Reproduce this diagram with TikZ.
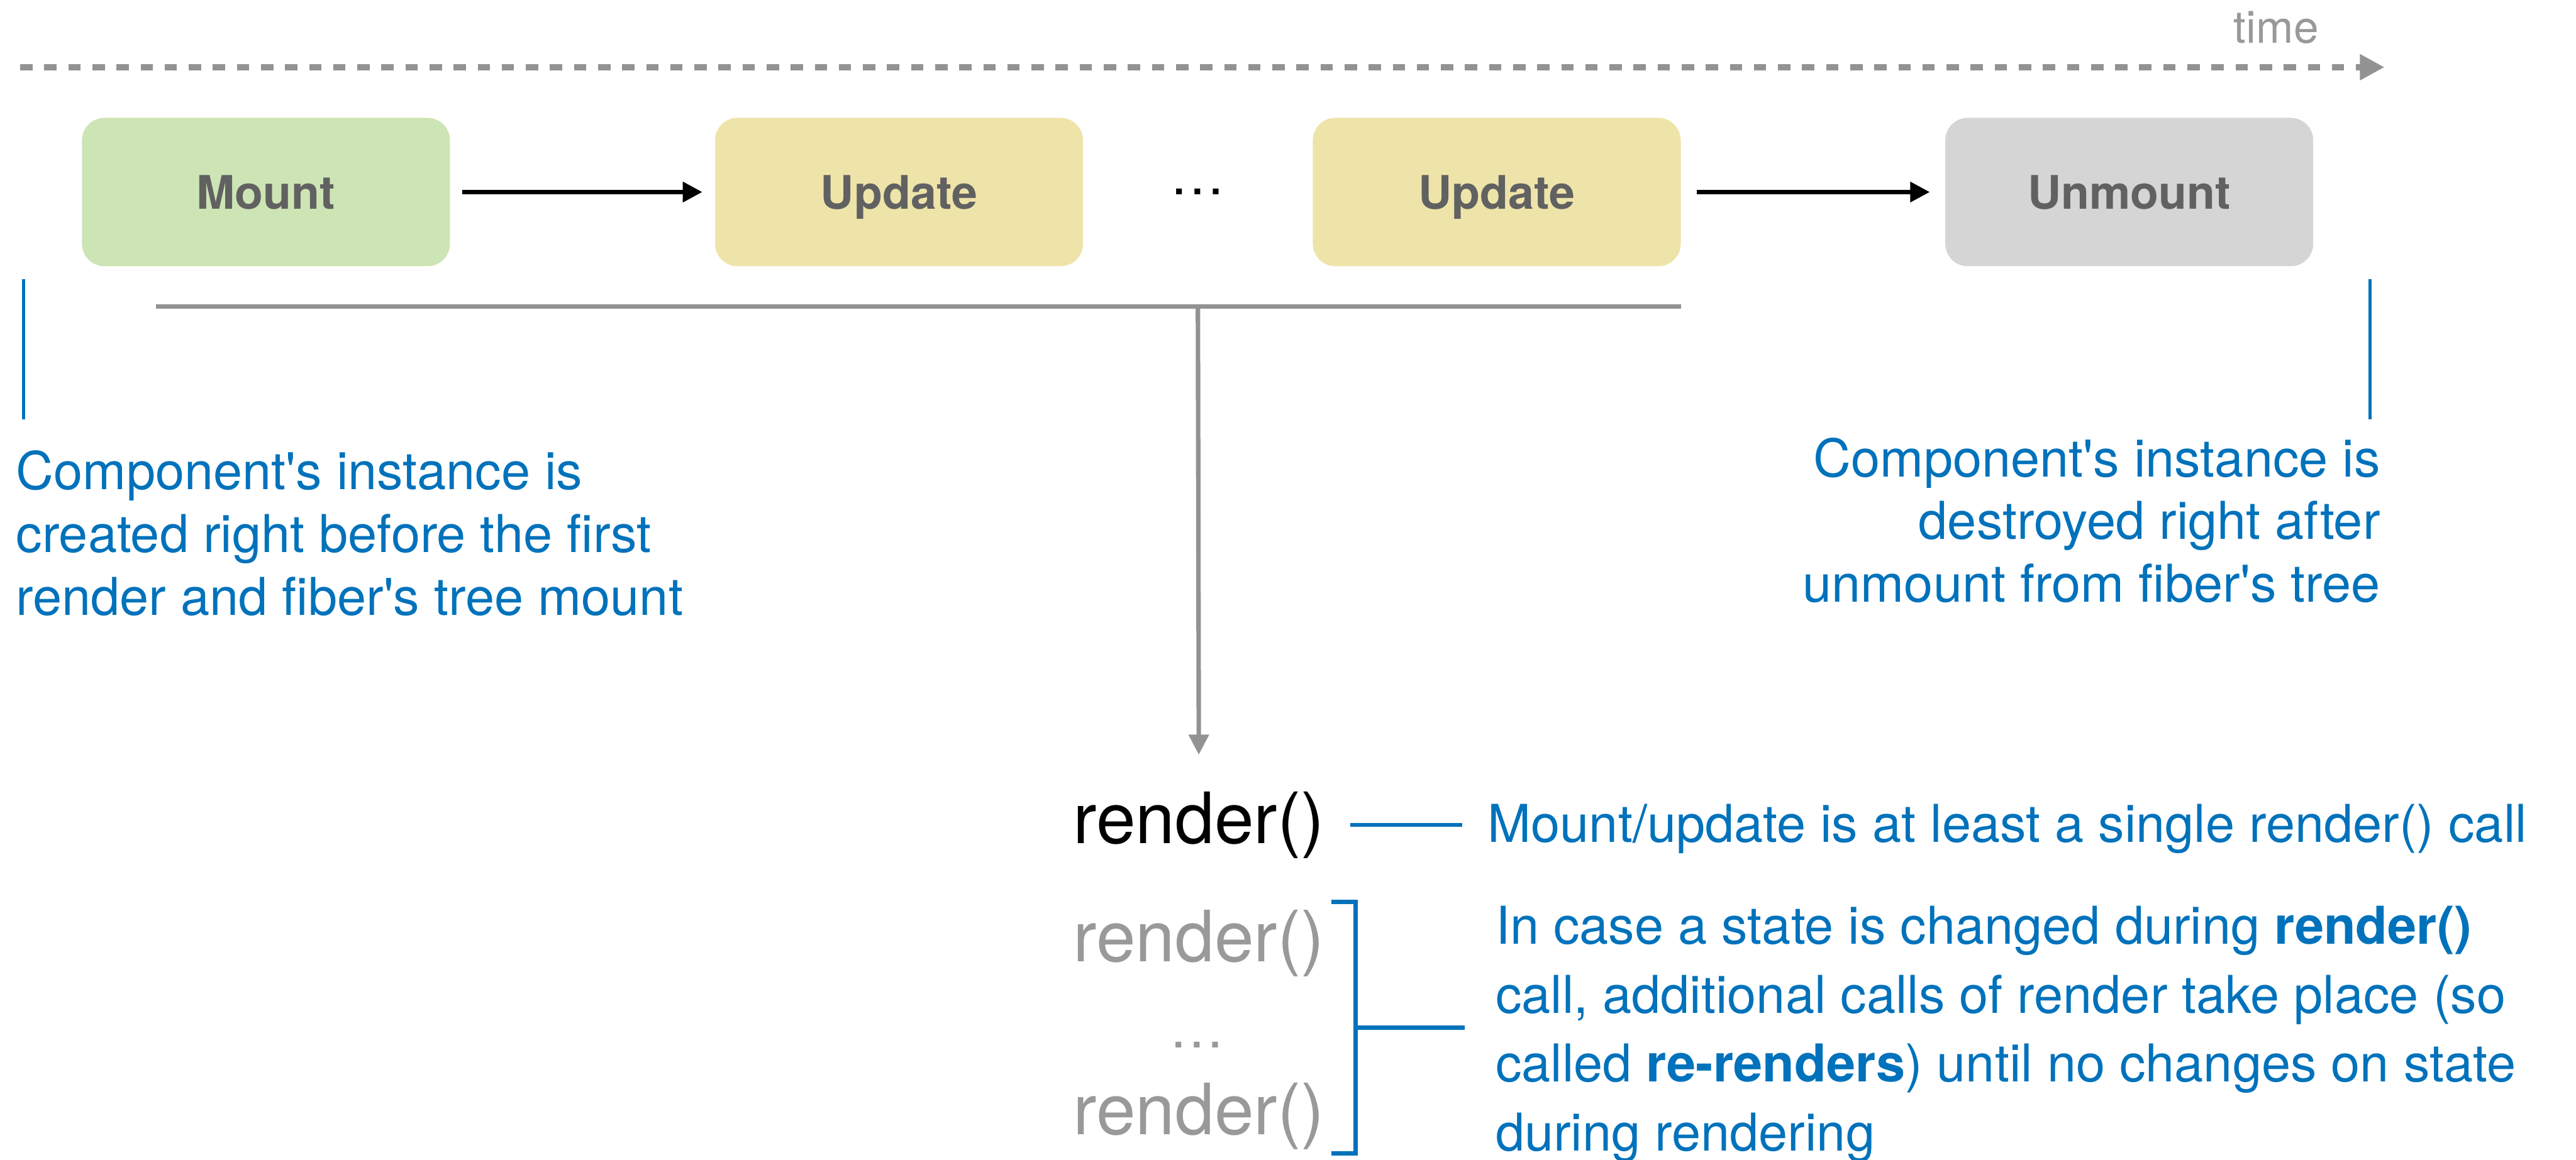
\documentclass[tikz,border=0pt]{standalone}
\usepackage{fontspec}
\setmainfont{TeX Gyre Heros}
\usepackage{tikz}
\usetikzlibrary{arrows.meta, positioning, calc}

\definecolor{notes}{RGB}{0,114,187}
\definecolor{lines}{RGB}{146,146,146}
\definecolor{faded}{RGB}{153,153,153}
\definecolor{labels}{RGB}{97,97,97}
\definecolor{mountbg}{RGB}{205,228,180}
\definecolor{updatebg}{RGB}{238,228,169}
\definecolor{unmountbg}{RGB}{213,213,213}

\tikzstyle{arrow} = [line width=0.8mm, -{Triangle[length=3.5mm, width=3.5mm]}]

\begin{document}
\begin{tikzpicture}[
	phase/.style={rectangle, rounded corners=4mm, minimum width=6.57cm, minimum height=2.65cm, text depth=0pt, font=\fontsize{23.5}{28}\selectfont\bfseries, text=labels},
	note/.style={text=notes, inner sep=0, font=\fontsize{26.5}{31.9}\selectfont},
	call/.style={inner sep=0, font=\fontsize{36}{43}\selectfont},
	tick/.style={notes, line width=0.6mm},
	link/.style={notes, line width=0.75mm},
	fork/.style={lines, line width=0.8mm}
]
\useasboundingbox (0,0) rectangle (46,-20.71);

% Time axis
\coordinate (t0) at (0.36,-1.20);
\coordinate (t1) at (42.58,-1.20);
\draw[lines, line width=1.1mm, dash pattern=on 2.2mm off 2.1mm, -{Triangle[length=4.4mm, width=4.4mm]}] (t0) -- (t1);
\node[text=faded, inner sep=0, anchor=base east, font=\fontsize{22.8}{27}\selectfont] (time) at (41.41,-0.77) {time};

% Phases
\node[phase, fill=mountbg] (mount) at (4.75,-3.43) {Mount};
\node[phase, fill=updatebg, right=4.72cm of mount] (upd1) {Update};
\node[phase, fill=updatebg, right=4.09cm of upd1] (upd2) {Update};
\node[phase, fill=unmountbg, right=4.71cm of upd2] (unmount) {Unmount};
\node[font=\fontsize{28}{32}\selectfont] (gap) at ($(upd1)!0.5!(upd2)$) {\dots};

\draw[arrow, shorten <=2.1mm, shorten >=2.2mm] (mount) -- (upd1);
\draw[arrow, shorten <=2.8mm, shorten >=2.7mm] (upd2) -- (unmount);

% Lifetime notes
\node[note, anchor=north west, align=left] (born) at (0.28,-8.04)
	{Component\textquotesingle s instance is\\created right before the first\\render and fiber\textquotesingle s tree mount};
\node[note, anchor=north east, align=right] (gone) at (42.51,-7.81)
	{Component\textquotesingle s instance is\\destroyed right after\\unmount from fiber\textquotesingle s tree};
\draw[tick] (born.north west) ++(0.14,0.55) -- ++(0,2.50);
\draw[tick] (gone.north east) ++(-0.19,0.32) -- ++(0,2.50);

% Render calls
\node[call, anchor=base] (rnd) at (21.41,-15.06) {render()};
\node[call, text=faded, anchor=base] (again) at (21.41,-17.18) {render()};
\node[call, text=faded, font=\fontsize{28}{32}\selectfont] (more) at (21.37,-18.66) {\dots};
\node[call, text=faded, anchor=base] (last) at (21.41,-20.27) {render()};

\coordinate (fl) at (2.78,-5.47);
\coordinate (split) at (gap |- fl);
\draw[fork] (fl) -- (upd2.east |- fl);
\draw[fork, -{Triangle[length=3.6mm, width=3.5mm]}, shorten >=6.5mm] (split) -- (rnd);

\node[note, anchor=base west] (once) at (26.56,-15.04)
	{Mount/update is at least a single render() call};
\draw[link, shorten <=4.5mm, shorten >=4.5mm] (rnd.east) -- (rnd.east -| once.west);

% Re-render bracket
\coordinate (btop) at ([shift={(5.5mm,1.4mm)}]again.north east);
\coordinate (bbot) at ([shift={(5.5mm,-0.6mm)}]last.south east);
\coordinate (bmid) at ($(btop)!0.5!(bbot)$);
\draw[link] ([xshift=-4.4mm]btop) -- (btop) -- (bbot) -- ([xshift=-4.4mm]bbot);
\node[note, anchor=north west, align=left, font=\fontsize{26.5}{35}\selectfont] (cases) at (26.70,-16.18)
	{In case a state is changed during \textbf{render()}\\call, additional calls of render take place (so\\called \textbf{re-renders}) until no changes on state\\during rendering};
\draw[link, shorten >=5.5mm] (bmid) -- (bmid -| cases.west);

\end{tikzpicture}
\end{document}
